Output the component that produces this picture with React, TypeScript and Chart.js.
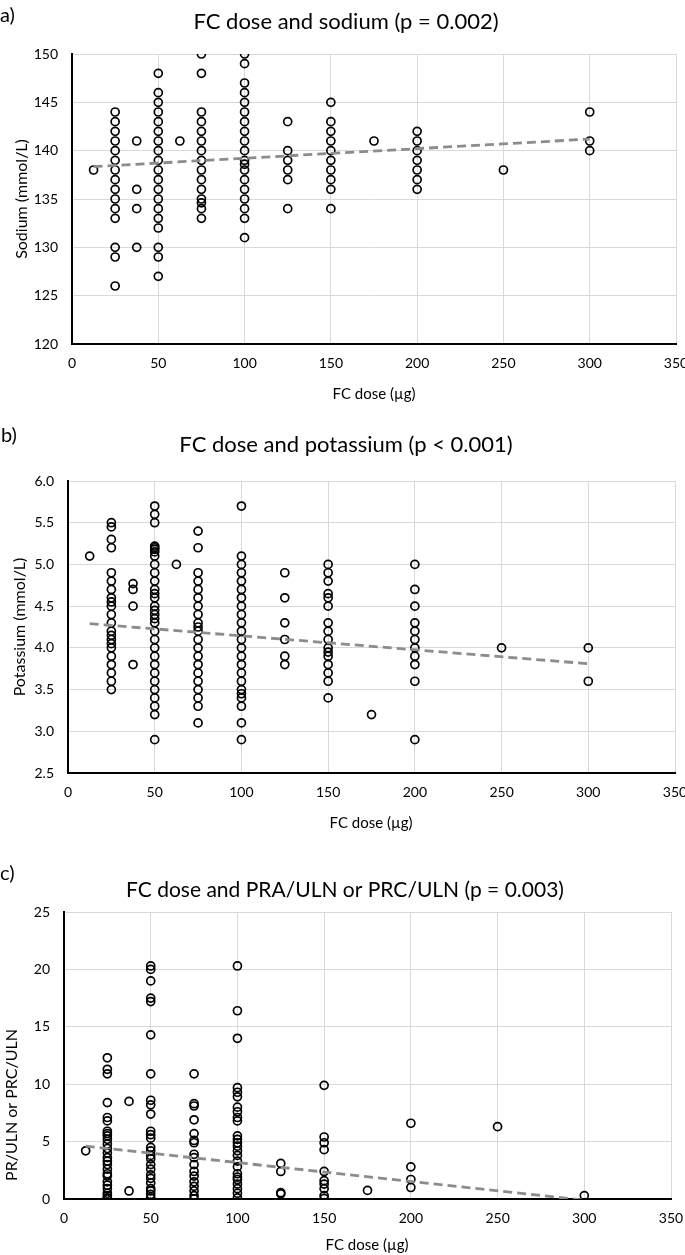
import React, { useEffect, useRef } from "react";
import { Chart, registerables } from "chart.js";

Chart.register(...registerables);

const FONT = "Lato, 'Open Sans', sans-serif";

// ---------- Data ----------
const trendX = [12.5, 300];

const sodiumDoses = [12.5, 25, 37.5, 50, 62.5, 75, 100, 125, 150, 175, 200, 250, 300];
const sodiumValues = [
  [138],
  [144, 143, 142, 141, 140, 139, 138, 137, 136, 135, 134, 133, 130, 129, 126],
  [141, 136, 134, 130],
  [148, 146, 145, 144, 143, 142, 141, 140, 139, 138, 137, 136, 135, 134, 133, 132, 130, 129, 127],
  [141],
  [150, 148, 144, 143, 142, 141, 140, 139, 138, 137, 136, 135, 134.6, 134, 133],
  [150, 149, 147, 146, 145, 144, 143, 142, 141, 140, 139, 138.6, 138, 137, 136, 135, 134, 133, 131],
  [143, 140, 139, 138, 137, 134],
  [145, 143, 142, 141, 140, 139, 138, 137, 136, 134],
  [141],
  [142, 141, 140, 139, 138, 137, 136],
  [138],
  [144, 141, 140],
];
const sodiumTrend = [138.35, 141.2];
const sodiumTicks = [120, 125, 130, 135, 140, 145, 150];

const potassiumDoses = [12.5, 25, 37.5, 50, 62.5, 75, 100, 125, 150, 175, 200, 250, 300];
const potassiumValues = [
  [5.1],
  [5.5, 5.45, 5.3, 5.2, 4.9, 4.8, 4.7, 4.6, 4.55, 4.5, 4.4, 4.3, 4.2, 4.15, 4.1, 4.05, 4.0, 3.9, 3.8, 3.7, 3.6, 3.5],
  [4.77, 4.7, 4.5, 3.8],
  [5.7, 5.6, 5.5, 5.22, 5.2, 5.18, 5.15, 5.1, 5.0, 4.9, 4.8, 4.7, 4.65, 4.6, 4.5, 4.45, 4.4, 4.35, 4.3, 4.2, 4.1, 4.0, 3.9, 3.8, 3.7, 3.6, 3.5, 3.4, 3.3, 3.2, 2.9],
  [5.0],
  [5.4, 5.2, 4.9, 4.8, 4.7, 4.6, 4.5, 4.4, 4.3, 4.25, 4.2, 4.1, 4.0, 3.9, 3.8, 3.7, 3.6, 3.5, 3.4, 3.3, 3.1],
  [5.7, 5.1, 5.0, 4.9, 4.8, 4.7, 4.6, 4.5, 4.4, 4.3, 4.2, 4.1, 4.0, 3.9, 3.8, 3.7, 3.6, 3.5, 3.45, 3.4, 3.3, 3.1, 2.9],
  [4.9, 4.6, 4.3, 4.1, 3.9, 3.8],
  [5.0, 4.9, 4.8, 4.65, 4.6, 4.5, 4.3, 4.2, 4.1, 4.0, 3.95, 3.9, 3.8, 3.7, 3.6, 3.4],
  [3.2],
  [5.0, 4.7, 4.5, 4.3, 4.2, 4.1, 4.0, 3.9, 3.8, 3.6, 2.9],
  [4.0],
  [4.0, 3.6],
];
const potassiumTrend = [4.29, 3.81];
const potassiumTicks = [2.5, 3.0, 3.5, 4.0, 4.5, 5.0, 5.5, 6.0];

const reninDoses = [12.5, 25, 37.5, 50, 75, 100, 125, 150, 175, 200, 250, 300];
const reninValues = [
  [4.2],
  [12.3, 11.3, 10.9, 8.4, 7.1, 6.8, 5.9, 5.7, 5.5, 5.2, 4.8, 4.4, 4.0, 3.6, 3.3, 3.0, 2.6, 2.2, 2.0, 1.5, 1.2, 0.9, 0.5, 0.3, 0.1, 0.0],
  [8.5, 0.7],
  [20.3, 20.0, 19.0, 17.5, 17.2, 14.3, 10.9, 8.6, 8.2, 7.4, 5.9, 5.6, 5.3, 4.5, 4.2, 3.8, 3.5, 3.0, 2.6, 2.1, 1.8, 1.4, 0.9, 0.7, 0.4, 0.1],
  [10.9, 8.3, 8.1, 6.9, 5.7, 5.1, 4.9, 3.9, 3.6, 3.0, 2.4, 2.0, 1.5, 1.1, 0.7, 0.3, 0.0],
  [20.3, 16.4, 14.0, 9.7, 9.3, 8.9, 8.0, 7.6, 7.1, 6.8, 5.5, 5.2, 4.9, 4.6, 4.2, 3.8, 3.3, 2.8, 2.2, 1.9, 1.7, 1.3, 0.9, 0.5, 0.1],
  [3.1, 2.4, 0.55, 0.45],
  [9.9, 5.4, 4.9, 4.3, 2.4, 1.6, 1.3, 0.9, 0.3, 0.05],
  [0.75],
  [6.6, 2.8, 1.7, 1.0],
  [6.3],
  [0.3],
];
const reninTrend = [4.6, -0.1];
const reninTicks = [0, 5, 10, 15, 20, 25];

const xTicks = [0, 50, 100, 150, 200, 250, 300, 350];

// ---------- Chart specs ----------
type TextItem = { text: string; x: number; y: number; size: number; align?: CanvasTextAlign; rotate?: boolean };
type Spec = {
  top: number;
  height: number;
  area: { l: number; r: number; t: number; b: number };
  doses: number[];
  values: number[][];
  trend: number[];
  yTicks: number[];
  decimals: number;
  texts: TextItem[];
};

const specs: Spec[] = [
  {
    top: 0,
    height: 415,
    area: { l: 72, r: 676, t: 54, b: 344 },
    doses: sodiumDoses,
    values: sodiumValues,
    trend: sodiumTrend,
    yTicks: sodiumTicks,
    decimals: 0,
    texts: [
      { text: "a)", x: 0, y: 16, size: 20, align: "left" },
      { text: "FC dose and sodium (p = 0.002)", x: 346, y: 22, size: 22 },
      { text: "FC dose (µg)", x: 374, y: 394, size: 15 },
      { text: "Sodium (mmol/L)", x: 22, y: 199, size: 16, rotate: true },
    ],
  },
  {
    top: 415,
    height: 425,
    area: { l: 68, r: 675, t: 66, b: 358 },
    doses: potassiumDoses,
    values: potassiumValues,
    trend: potassiumTrend,
    yTicks: potassiumTicks,
    decimals: 1,
    texts: [
      { text: "b)", x: 1, y: 21, size: 20, align: "left" },
      { text: "FC dose and potassium (p < 0.001)", x: 346, y: 30, size: 22 },
      { text: "FC dose (µg)", x: 371, y: 408, size: 15 },
      { text: "Potassium (mmol/L)", x: 20, y: 212, size: 16, rotate: true },
    ],
  },
  {
    top: 840,
    height: 415,
    area: { l: 64, r: 671, t: 72, b: 359 },
    doses: reninDoses,
    values: reninValues,
    trend: reninTrend,
    yTicks: reninTicks,
    decimals: 0,
    texts: [
      { text: "c)", x: 0, y: 34, size: 20, align: "left" },
      { text: "FC dose and PRA/ULN or PRC/ULN (p = 0.003)", x: 345, y: 50, size: 21 },
      { text: "FC dose (µg)", x: 367, y: 405, size: 15 },
      { text: "PR/ULN or PRC/ULN", x: 12, y: 265, size: 16, rotate: true },
    ],
  },
];

function ScatterPanel({ spec }: { spec: Spec }) {
  const ref = useRef<HTMLCanvasElement | null>(null);
  useEffect(() => {
    const canvas = ref.current;
    if (!canvas) return;
    const points: { x: number; y: number }[] = [];
    spec.doses.forEach((d, i) => spec.values[i].forEach((v) => points.push({ x: d, y: v })));
    const trendPts = trendX.map((x, i) => ({ x, y: spec.trend[i] }));
    const { l, r, t, b } = spec.area;

    const textPlugin = {
      id: "panelTexts",
      afterDraw(chart: any) {
        const ctx = chart.ctx as CanvasRenderingContext2D;
        ctx.save();
        ctx.fillStyle = "#000";
        ctx.textBaseline = "middle";
        for (const it of spec.texts) {
          ctx.font = `${it.size}px ${FONT}`;
          ctx.textAlign = it.align || "center";
          if (it.rotate) {
            ctx.save();
            ctx.translate(it.x, it.y);
            ctx.rotate(-Math.PI / 2);
            ctx.fillText(it.text, 0, 0);
            ctx.restore();
          } else {
            ctx.fillText(it.text, it.x, it.y);
          }
        }
        ctx.restore();
      },
    };

    const chart = new Chart(canvas, {
      type: "scatter",
      data: {
        datasets: [
          {
            type: "line",
            data: trendPts,
            borderColor: "#8c8c8c",
            borderWidth: 2.8,
            borderDash: [9, 5],
            pointRadius: 0,
            fill: false,
            order: 0,
          } as any,
          {
            type: "scatter",
            data: points,
            pointStyle: "circle",
            pointRadius: 4,
            pointBorderWidth: 1.7,
            borderColor: "#000",
            backgroundColor: "rgba(0,0,0,0)",
            order: 1,
          } as any,
        ],
      },
      options: {
        animation: false,
        responsive: false,
        devicePixelRatio: 1,
        layout: { autoPadding: false, padding: { top: t, left: 0, right: 685 - r, bottom: 0 } },
        plugins: { legend: { display: false }, tooltip: { enabled: false }, title: { display: false } },
        scales: {
          x: {
            type: "linear",
            min: 0,
            max: 350,
            afterBuildTicks: (s: any) => {
              s.ticks = xTicks.map((v) => ({ value: v }));
            },
            afterFit: (s: any) => {
              s.height = spec.height - b;
              s.paddingLeft = 0;
              s.paddingRight = 0;
            },
            grid: { color: "#d9d9d9", lineWidth: 1, drawTicks: false },
            border: { color: "#000", width: 2 },
            ticks: { color: "#000", font: { family: FONT, size: 14 }, padding: 11, maxRotation: 0, autoSkip: false },
          },
          y: {
            type: "linear",
            min: spec.yTicks[0],
            max: spec.yTicks[spec.yTicks.length - 1],
            afterBuildTicks: (s: any) => {
              s.ticks = spec.yTicks.map((v) => ({ value: v }));
            },
            afterFit: (s: any) => {
              s.width = l;
              s.paddingTop = 0;
              s.paddingBottom = 0;
            },
            grid: { color: "#d9d9d9", lineWidth: 1, drawTicks: false },
            border: { color: "#000", width: 2 },
            ticks: {
              color: "#000",
              font: { family: FONT, size: 14 },
              padding: 14,
              autoSkip: false,
              callback: (v: any) => Number(v).toFixed(spec.decimals),
            },
          },
        },
      },
      plugins: [textPlugin],
    } as any);
    return () => chart.destroy();
  }, [spec]);

  return (
    <canvas
      ref={ref}
      width={685}
      height={spec.height}
      style={{ position: "absolute", left: 0, top: spec.top, width: 685, height: spec.height, display: "block" }}
    />
  );
}

export default function App() {
  useEffect(() => {
    document.body.style.margin = "0";
    document.body.style.background = "#fff";
  }, []);
  return (
    <div style={{ position: "relative", width: 685, height: 1255, background: "#fff", overflow: "hidden" }}>
      {specs.map((s, i) => (
        <ScatterPanel key={i} spec={s} />
      ))}
    </div>
  );
}
